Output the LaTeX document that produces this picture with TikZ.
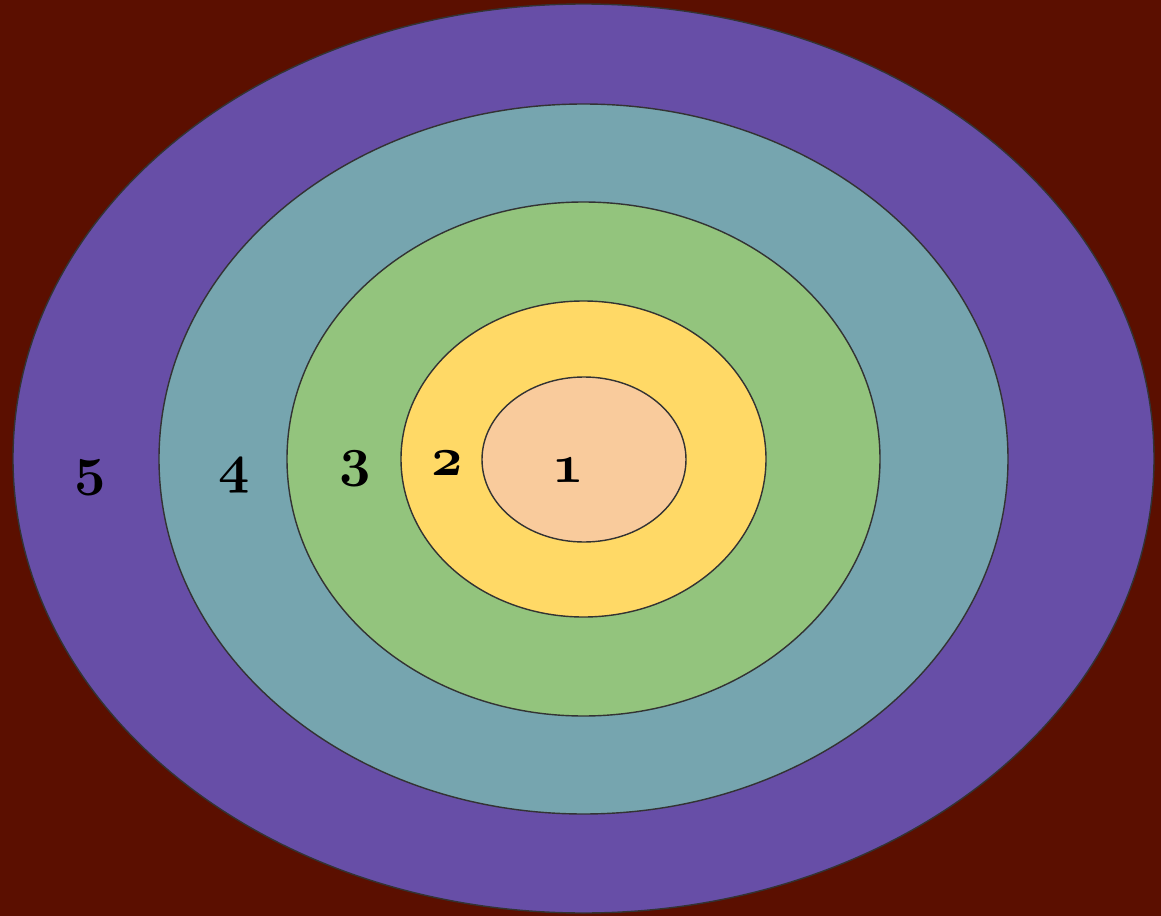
\documentclass[tikz,border=0pt]{standalone}
\usepackage{tikz}
\usepackage{graphicx}
\definecolor{cBack}{HTML}{5B0F00}
\definecolor{cRing5}{HTML}{674EA7}
\definecolor{cRing4}{HTML}{76A5AF}
\definecolor{cRing3}{HTML}{93C47D}
\definecolor{cRing2}{HTML}{FFD966}
\definecolor{cRing1}{HTML}{F9CB9C}
\definecolor{cEdge}{HTML}{333333}
\newcommand{\lvlnum}[1]{\scalebox{1.25}{\fontencoding{OML}\fontfamily{cmm}\fontseries{b}\fontshape{it}\fontsize{24.88}{28}\selectfont #1}}
\tikzset{
	ring/.style ={draw=cEdge, line width=0.8pt},
	lvl/.style  ={anchor=base, inner sep=0pt},
}
\begin{document}
\begin{tikzpicture}[x=0.02cm, y=-0.02cm]
	\fill[cBack] (0,0) rectangle (1161,916);
	\useasboundingbox (0,0) rectangle (1161,916);
	% rings, outside in
	\draw[ring, fill=cRing5] (583.5,458.5) ellipse [x radius=570.5, y radius=454.5];
	\draw[ring, fill=cRing4] (583.5,459) ellipse [x radius=424.5, y radius=355];
	\draw[ring, fill=cRing3] (583.5,459) ellipse [x radius=296.5, y radius=257];
	\draw[ring, fill=cRing2] (583.5,459) ellipse [x radius=182.5, y radius=158];
	\draw[ring, fill=cRing1] (584,459.5) ellipse [x radius=102, y radius=82.5];
	% level numbers
	\node[lvl] (n5) at (90,484) {\lvlnum{5}};
	\node[lvl] (n4) at (234,482) {\lvlnum{4}};
	\node[lvl] (n3) at (355,475) {\lvlnum{3}};
	\node[lvl] (n2) at (447,475) {\lvlnum{2}};
	\node[lvl] (n1) at (568,482) {\lvlnum{1}};
\end{tikzpicture}
\end{document}
